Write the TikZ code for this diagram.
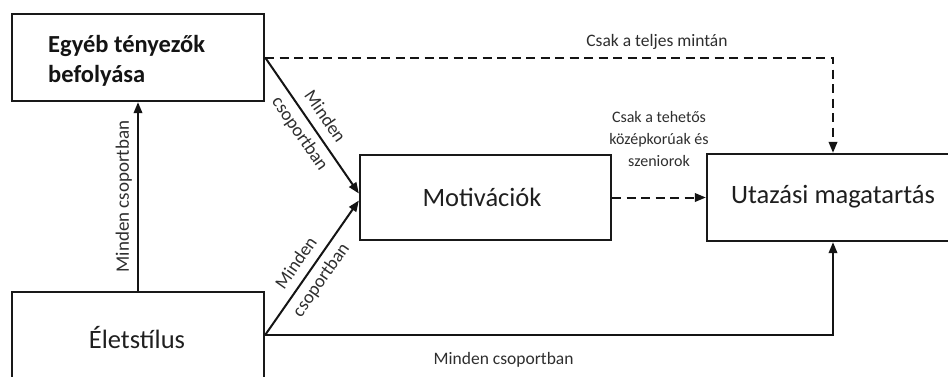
\documentclass[tikz,border=0pt]{standalone}
\usepackage{fontspec}
\setmainfont{Carlito}
\usetikzlibrary{arrows.meta}
\begin{document}
\begin{tikzpicture}[x=1pt,y=-1pt,
  box/.style={draw=black!90, line width=2.3pt, inner sep=0pt},
  bigtxt/.style={font=\fontsize{26.5}{30}\selectfont, text=black!88, inner sep=0pt},
  conn/.style={draw=black!92, line width=2pt, -{Triangle[length=11pt,width=8.5pt]}},
  dsh/.style={conn, dash pattern=on 9pt off 5.5pt},
  lbl/.style={font=\fontsize{17.5}{21}\selectfont, text=black!82, inner sep=0pt},
  lblsm/.style={font=\fontsize{16}{22}\selectfont, text=black!82, inner sep=0pt, align=center},
  lblrot/.style={font=\fontsize{18.5}{30}\selectfont, text=black!82, inner sep=0pt, align=center}]
\useasboundingbox (0,0) rectangle (948,376);
% boxes
\node[box, minimum width=252pt, minimum height=87pt] (egyeb) at (138,57.5) {};
\node[anchor=base west, align=left, inner sep=0pt, text=black!92,
      font=\bfseries\fontsize{24.5}{29.5}\selectfont] (egyebtxt) at (48,82) {Egyéb tényezők\\befolyása};
\node[box, minimum width=252pt, minimum height=110pt] (elet) at (138,347) {};
\node[bigtxt] (elettxt) at (137,338) {Életstílus};
\node[box, minimum width=251pt, minimum height=85pt] (motiv) at (485.5,197.5) {};
\node[bigtxt] (motivtxt) at (482,197) {Motivációk};
\node[box, minimum width=252pt, minimum height=87pt] (utaz) at (833,197.5) {};
\node[bigtxt] (utaztxt) at (833,197) {Utazási magatartás};
% connectors
\draw[conn] (elet.north) -- (egyeb.south)
  node[midway, sloped, above=5pt, lbl, font=\fontsize{19}{20}\selectfont] (l1) {Minden csoportban};
\draw[dsh] (egyeb.east) -| (utaz.north)
  node[pos=0.345, above=7pt, lbl] (l2) {Csak a teljes mintán};
\draw[conn] (egyeb.east) -- ([yshift=4pt]motiv.west)
  node[pos=0.5, sloped, lblrot] (l3) {Minden\\csoportban};
\draw[conn] ([yshift=12pt]elet.east) -- ([yshift=-3pt]motiv.west)
  node[pos=0.47, sloped, lblrot] (l4) {Minden\\csoportban};
\draw[dsh] (motiv.east) -- (utaz.west)
  node[midway, above=30pt, lblsm] (l5) {Csak a tehetős\\középkorúak és\\szeniorok};
\draw[conn] ([yshift=12pt]elet.east) -| (utaz.south)
  node[pos=0.21, below=16pt, lbl] (l6) {Minden csoportban};
\end{tikzpicture}
\end{document}
